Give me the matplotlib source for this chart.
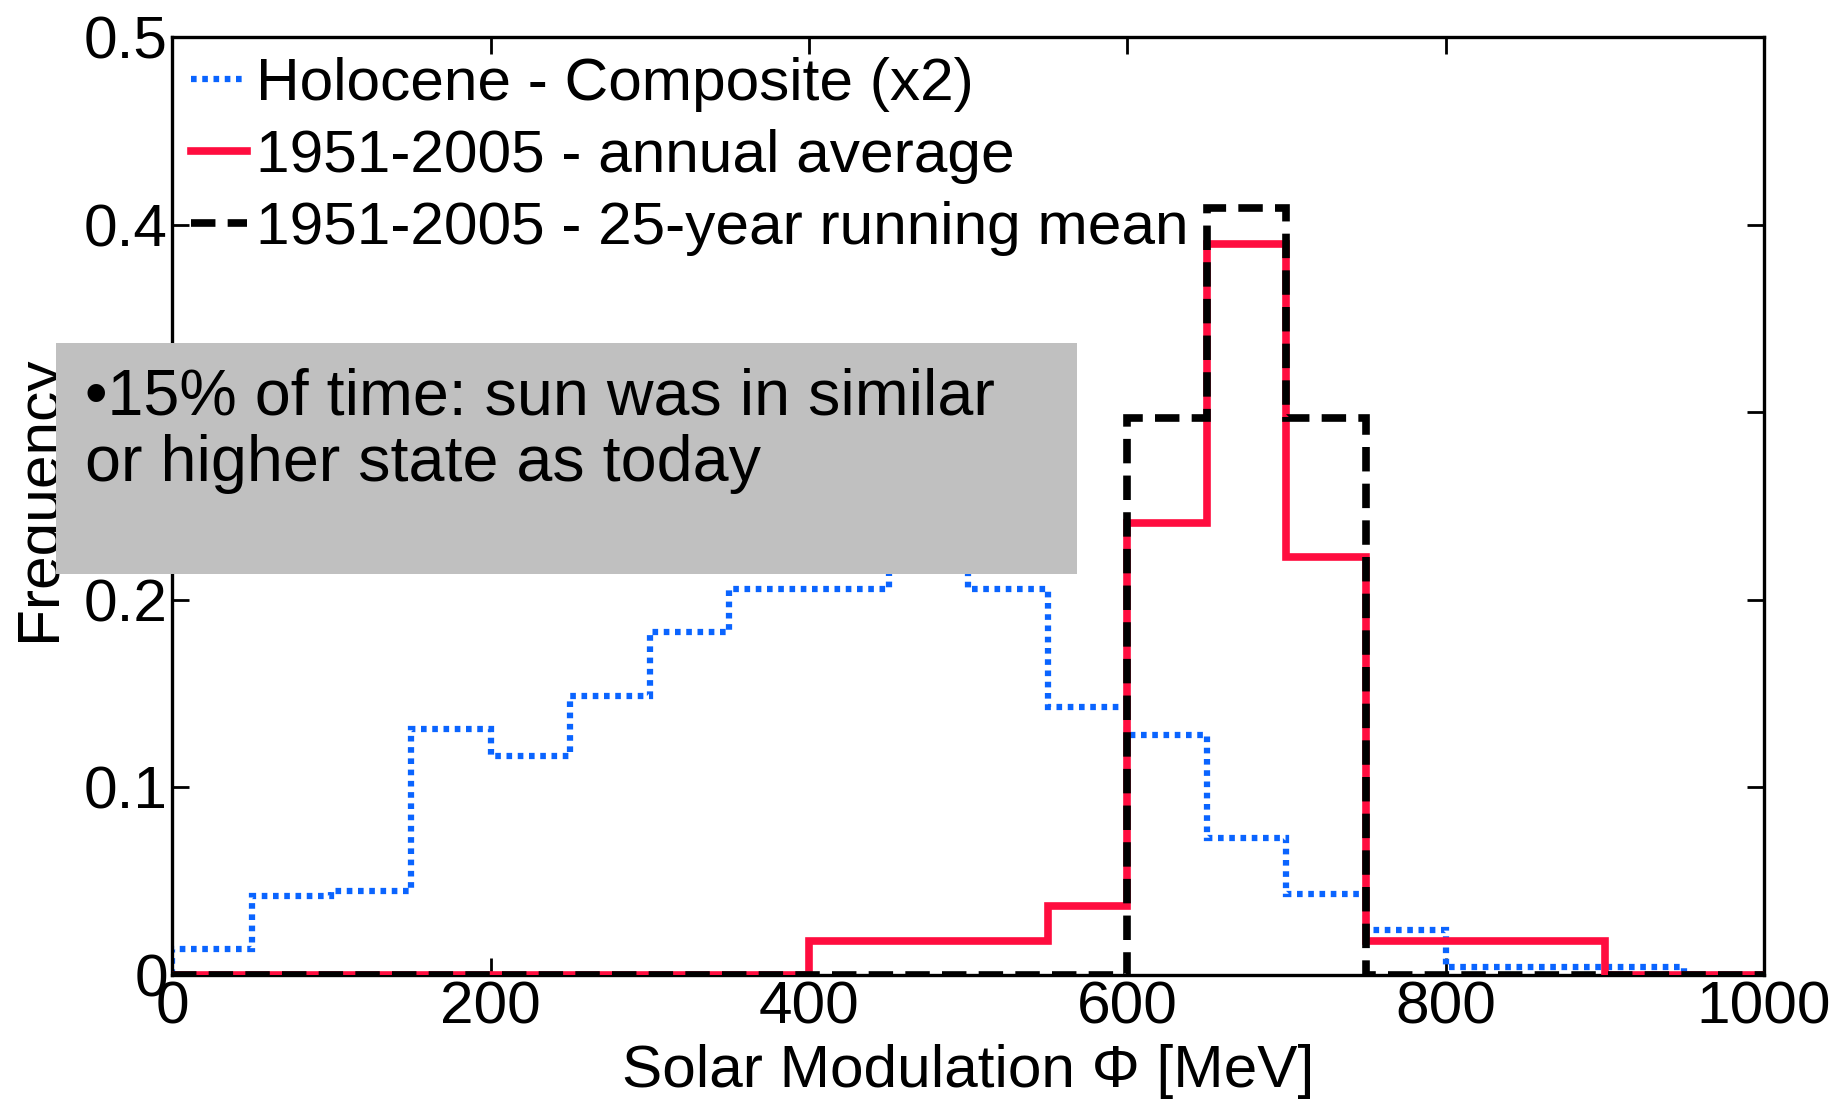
import numpy as np
import matplotlib
matplotlib.use("Agg")
import matplotlib.pyplot as plt
from matplotlib.patches import Rectangle

plt.rcParams["font.family"] = ["Liberation Sans", "DejaVu Sans"]

# bin edges of the histograms (MeV)
edges = np.arange(0, 1001, 50)

# Holocene composite (x2), 20 bins; 450-500 bin is hidden by the note box
holocene = [0.014, 0.042, 0.045, 0.131, 0.117, 0.149, 0.183, 0.206, 0.206, 0.235,
            0.206, 0.143, 0.128, 0.073, 0.043, 0.024, 0.004, 0.004, 0.004, 0.0]
# 1951-2005 annual average
annual = [0, 0, 0, 0, 0, 0, 0, 0, 0.018, 0.018,
          0.018, 0.037, 0.241, 0.390, 0.223, 0.018, 0.018, 0.018, 0, 0]
# 1951-2005 25-year running mean
running = [0, 0, 0, 0, 0, 0, 0, 0, 0, 0,
           0, 0, 0.297, 0.409, 0.297, 0, 0, 0, 0, 0]

xticks = [0, 200, 400, 600, 800, 1000]
yticks = [0, 0.1, 0.2, 0.3, 0.4, 0.5]
ytick_labels = ["0", "0.1", "0.2", "0.3", "0.4", "0.5"]

note = "\u202215% of time: sun was in similar\nor higher state as today"

FS = 43.5

fig = plt.figure(figsize=(18.37, 11.02), dpi=100)
ax = fig.add_axes([0.0937, 0.1153, 0.8666, 0.8507])

ax.stairs(holocene, edges, color="#0a64ff", lw=4.5, ls=(0, (0.9, 0.9)),
          label="Holocene - Composite (x2)", zorder=2)
ax.stairs(annual, edges, color="#ff0d3f", lw=5.5,
          label="1951-2005 - annual average", zorder=3)
ax.stairs(running, edges, color="black", lw=5.5, ls=(0, (3.2, 1.6)),
          label="1951-2005 - 25-year running mean", zorder=4)

ax.set_xlim(0, 1000)
ax.set_ylim(0, 0.5)
ax.set_xticks(xticks)
ax.set_xticklabels([str(t) for t in xticks])
ax.set_yticks(yticks)
ax.set_yticklabels(ytick_labels)
ax.tick_params(direction="in", length=12, width=2, labelsize=FS,
               top=True, right=True)
ax.tick_params(axis="x", pad=4)
ax.tick_params(axis="y", pad=3)
for s in ax.spines.values():
    s.set_linewidth(2.4)

ax.set_xlabel("Solar Modulation \u03a6 [MeV]", fontsize=FS, labelpad=6)
ax.set_ylabel("Frequency", fontsize=FS, labelpad=12)
ax.yaxis.label.set_y(0.508)

ax.legend(loc="upper left", bbox_to_anchor=(0.012, 0.979), frameon=False,
          fontsize=FS, handlelength=0.92, handletextpad=0.15,
          labelspacing=0.28, borderpad=0, borderaxespad=0)

# grey note box on top of everything
fig.patches.append(Rectangle((56 / 1837, 1 - 574 / 1102), 1021 / 1837, 231 / 1102,
                             transform=fig.transFigure, facecolor="#c0c0c0",
                             edgecolor="none", zorder=10))
fig.text(85 / 1837, 1 - 481 / 1102, note, fontsize=46.5, va="baseline",
         ha="left", linespacing=1.13, zorder=11)

fig.savefig("out.png", dpi=100)
